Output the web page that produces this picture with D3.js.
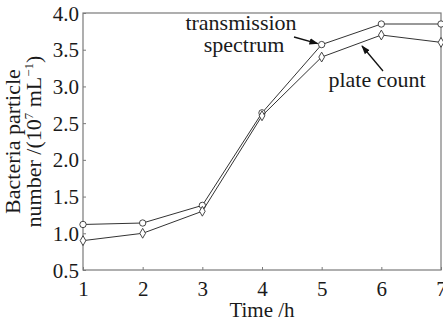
<!DOCTYPE html>
<html>
<head>
<meta charset="utf-8">
<script src="https://cdn.jsdelivr.net/npm/d3@7"></script>
<style>
  body { margin: 0; background: #fff; }
  text { font-family: "Liberation Serif", serif; fill: #1a1a1a; }
</style>
</head>
<body>
<div id="chart"></div>
<script>
// time points (h)
const hours = [1, 2, 3, 4, 5, 6, 7];
// bacteria particle number, 10^7 mL^-1
const transmission = [1.12, 1.14, 1.38, 2.64, 3.57, 3.85, 3.85];
const plateCount = [0.90, 1.00, 1.30, 2.60, 3.40, 3.70, 3.60];
const yTicks = [0.5, 1.0, 1.5, 2.0, 2.5, 3.0, 3.5, 4.0];

const width = 443, height = 322;
const margin = { top: 13, right: 2, bottom: 52, left: 83 };
const serif = "Liberation Serif, serif";

const svg = d3.select("#chart").append("svg")
    .attr("width", width)
    .attr("height", height);

const x = d3.scaleLinear().domain([1, 7]).range([margin.left, width - margin.right]);
const y = d3.scaleLinear().domain([0.5, 4.0]).range([height - margin.bottom, margin.top]);

//Frame around the plot area
svg.append("rect")
    .attr("x", x(1))
    .attr("y", y(4.0))
    .attr("width", x(7) - x(1))
    .attr("height", y(0.5) - y(4.0))
    .attr("fill", "none")
    .attr("stroke", "#7a7a7a")
    .attr("stroke-width", 1.2);

//Axes with inward ticks
const xAxis = svg.append("g")
    .attr("transform", "translate(0," + y(0.5) + ")")
    .call(d3.axisBottom(x).tickValues(hours).tickFormat(d3.format("d")).tickSizeInner(-3).tickSizeOuter(0).tickPadding(11));
const yAxis = svg.append("g")
    .attr("transform", "translate(" + x(1) + ",0)")
    .call(d3.axisLeft(y).tickValues(yTicks).tickFormat(d3.format(".1f")).tickSizeInner(-3).tickSizeOuter(0).tickPadding(4));

[xAxis, yAxis].forEach(a => {
    a.select(".domain").remove();
    a.selectAll(".tick line").attr("stroke", "#7a7a7a");
    a.selectAll(".tick text").attr("font-size", 21).attr("fill", "#1a1a1a")
        .style("font-family", serif);
});
xAxis.selectAll(".tick text").attr("dy", "0.71em");
yAxis.selectAll(".tick text").attr("dy", "0.34em");

//Series lines and markers
const line = d3.line().x((d, i) => x(hours[i])).y(d => y(d));

function drawSeries(values, symbolType, size) {
    svg.append("path")
        .datum(values)
        .attr("d", line)
        .attr("fill", "none")
        .attr("stroke", "#333")
        .attr("stroke-width", 1);
    svg.selectAll(null)
        .data(values)
        .enter()
        .append("path")
        .attr("d", d3.symbol().type(symbolType).size(size))
        .attr("transform", (d, i) => "translate(" + x(hours[i]) + "," + y(d) + ")")
        .attr("fill", "#fff")
        .attr("stroke", "#333")
        .attr("stroke-width", 0.9);
}
drawSeries(transmission, d3.symbolCircle, 32);
drawSeries(plateCount, d3.symbolDiamond, 28);

//Axis titles
svg.append("text")
    .attr("x", x(4))
    .attr("y", 317)
    .attr("text-anchor", "middle")
    .attr("font-size", 21)
    .text("Time /h");

const yTitle = svg.append("text")
    .attr("transform", "translate(0," + y(2.25) + ") rotate(-90)")
    .attr("text-anchor", "middle")
    .attr("font-size", 22);
yTitle.append("tspan").attr("x", 0).attr("y", 20).text("Bacteria particle");
const l2 = yTitle.append("tspan").attr("x", 0).attr("y", 41);
l2.append("tspan").text("number /(10");
l2.append("tspan").attr("font-size", 13).attr("dy", -8).text("7");
l2.append("tspan").attr("dy", 8).text(" mL");
l2.append("tspan").attr("font-size", 13).attr("dy", -8).text("−1");
l2.append("tspan").attr("dy", 8).text(")");

//Annotations with arrows
svg.append("defs").append("marker")
    .attr("id", "head")
    .attr("viewBox", "0 0 10 10")
    .attr("refX", 9).attr("refY", 5)
    .attr("markerWidth", 7).attr("markerHeight", 7)
    .attr("orient", "auto")
    .append("path")
    .attr("d", "M0,1.5 L10,5 L0,8.5 Z")
    .attr("fill", "#111");

svg.append("text").attr("x", 241).attr("y", 30).attr("text-anchor", "middle").attr("font-size", 22).text("transmission");
svg.append("text").attr("x", 244).attr("y", 52).attr("text-anchor", "middle").attr("font-size", 22).text("spectrum");
svg.append("line")
    .attr("x1", 294).attr("y1", 37)
    .attr("x2", x(5) - 4).attr("y2", y(transmission[4]) - 1)
    .attr("stroke", "#111").attr("stroke-width", 1.3)
    .attr("marker-end", "url(#head)");

svg.append("text").attr("x", 377).attr("y", 87).attr("text-anchor", "middle").attr("font-size", 22).text("plate count");
svg.append("line")
    .attr("x1", 383).attr("y1", 71)
    .attr("x2", 362).attr("y2", 46)
    .attr("stroke", "#111").attr("stroke-width", 1.3)
    .attr("marker-end", "url(#head)");
</script>
</body>
</html>
